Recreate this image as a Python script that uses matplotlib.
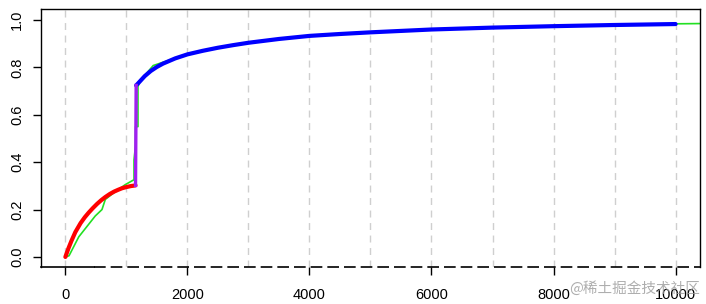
import matplotlib
matplotlib.use("Agg")
import matplotlib.pyplot as plt

# Empirical CDF (green)
ecdf_x = [0, 60, 220, 490, 600, 655, 790, 980, 1125, 1125, 1150, 1150, 1190, 1190,
          1230, 1440, 1720, 2000, 2500, 3000, 3500, 4000, 5000, 6000, 7000, 8000,
          9000, 10000, 10400]
ecdf_y = [0.0, 0.005, 0.085, 0.173, 0.20, 0.243, 0.27, 0.305, 0.326, 0.41, 0.47, 0.55,
          0.55, 0.72, 0.745, 0.808, 0.832, 0.855, 0.882, 0.905, 0.92, 0.933, 0.948,
          0.96, 0.968, 0.974, 0.979, 0.984, 0.985]

# Fitted segment 1 (red)
red_x = [0, 50, 100, 164, 250, 320, 382, 450, 520, 590, 655, 730, 800, 870, 928,
         1000, 1070, 1150]
red_y = [0.0, 0.036, 0.068, 0.105, 0.143, 0.168, 0.187, 0.206, 0.224, 0.240, 0.253,
         0.266, 0.276, 0.284, 0.290, 0.295, 0.299, 0.302]

# Jump (purple)
purple_x = [1150, 1160]
purple_y = [0.302, 0.724]

# Fitted segment 2 (blue)
blue_x = [1160, 1200, 1300, 1400, 1500, 1600, 1800, 2000, 2250, 2500, 2750, 3000,
          3500, 4000, 4500, 5000, 6000, 7000, 8000, 9000, 10000]
blue_y = [0.724, 0.735, 0.763, 0.785, 0.802, 0.816, 0.838, 0.855, 0.870, 0.883,
          0.894, 0.904, 0.920, 0.933, 0.941, 0.948, 0.960, 0.968, 0.974, 0.979, 0.983]

grid_x = list(range(0, 10001, 1000))
xticks = [0, 2000, 4000, 6000, 8000, 10000]
yticks = [0.0, 0.2, 0.4, 0.6, 0.8, 1.0]
ytick_labels = ["0.0", "0.2", "0.4", "0.6", "0.8", "1.0"]

plt.rcParams['font.family'] = ['Liberation Sans', 'DejaVu Sans']

fig = plt.figure(figsize=(7.06, 3.04), dpi=100)
ax = fig.add_axes([0.058, 0.122, 0.9335, 0.848])
ax.set_xlim(-400, 10400)
ax.set_ylim(-0.042, 1.046)

for gx in grid_x:
    ax.axvline(gx, color='#cfcfcf', lw=1.0, ls=(0, (5, 4)), zorder=1)

ax.plot(ecdf_x, ecdf_y, color='#22e022', lw=1.2, zorder=2)
ax.plot(red_x, red_y, color='#ff0000', lw=3.0, zorder=3, solid_capstyle='round',
        solid_joinstyle='round')
ax.plot(blue_x, blue_y, color='#0000ff', lw=3.0, zorder=3, solid_capstyle='round',
        solid_joinstyle='round')
ax.plot(purple_x, purple_y, color='#a020f0', lw=2.4, zorder=4)

# bottom frame: solid start then dashed
ax.spines['bottom'].set_visible(False)
ax.plot([-400, 475], [-0.042, -0.042], color='black', lw=1.2, clip_on=False, zorder=5)
ax.plot([475, 10400], [-0.042, -0.042], color='black', lw=1.2, ls=(0, (7, 3)),
        clip_on=False, zorder=5)
for s in ['left', 'right', 'top']:
    ax.spines[s].set_linewidth(1.0)

ax.set_xticks(xticks)
ax.set_xticklabels([str(t) for t in xticks])
ax.set_yticks(yticks)
ax.set_yticklabels(ytick_labels, rotation=90, va='center')
ax.tick_params(axis='both', direction='out', length=6, width=1.0, labelsize=10.5,
               colors='black')
ax.tick_params(axis='x', pad=9)
ax.tick_params(axis='y', pad=6)

fig.text(0.992, 0.028, "@稀土掘金技术社区", ha='right', va='bottom', fontsize=10.5,
         color='#9a9a9a', alpha=0.8, family=['Noto Sans CJK SC', 'DejaVu Sans'])

fig.savefig("out.png", dpi=100)
